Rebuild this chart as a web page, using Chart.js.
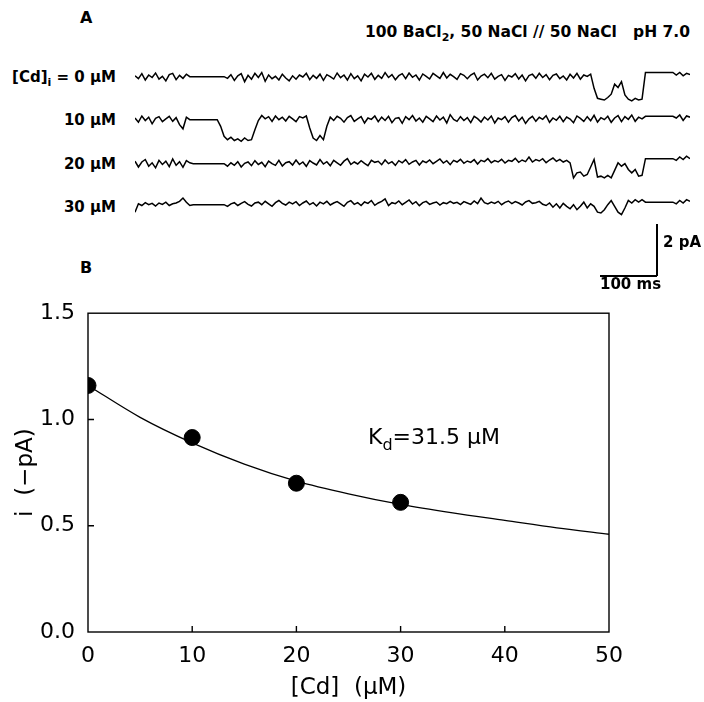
<!DOCTYPE html>
<html>
<head>
<meta charset="utf-8">
<script src="https://cdn.jsdelivr.net/npm/chart.js@4.4.0/dist/chart.umd.min.js"></script>
<style>
  body { margin: 0; width: 704px; height: 702px; background: #fff; position: relative; overflow: hidden; font-family: "DejaVu Sans", sans-serif; color: #000; }
  .lbl { position: absolute; font-weight: bold; font-size: 15px; line-height: 18px; white-space: nowrap; }
  .right { text-align: right; right: 588px; }
  .trace { position: absolute; left: 135px; width: 555px; height: 50px; }
  .sub { font-size: 11px; position: relative; top: 4px; }
</style>
</head>
<body>

<div class="lbl" style="left:80px;top:9px;font-size:16px;">A</div>
<div class="lbl" style="right:14px;top:23px;font-size:15.5px;">100 BaCl<span class="sub">2</span>, 50 NaCl // 50 NaCl &nbsp; pH 7.0</div>

<div class="lbl right" style="top:68px;">[Cd]<span class="sub">i</span> = 0 µM</div>
<div class="lbl right" style="top:111px;">10 µM</div>
<div class="lbl right" style="top:155px;">20 µM</div>
<div class="lbl right" style="top:198px;">30 µM</div>

<div class="trace" style="top:60px;"><canvas id="tr0"></canvas></div>
<div class="trace" style="top:103px;"><canvas id="tr10"></canvas></div>
<div class="trace" style="top:147px;"><canvas id="tr20"></canvas></div>
<div class="trace" style="top:188px;"><canvas id="tr30"></canvas></div>

<!-- scale bar -->
<div style="position:absolute;left:656px;top:224px;width:1.5px;height:52px;background:#000;"></div>
<div style="position:absolute;left:600px;top:275px;width:57px;height:1.5px;background:#000;"></div>
<div class="lbl" style="left:663px;top:233px;">2 pA</div>
<div class="lbl" style="left:600px;top:275px;">100 ms</div>

<div class="lbl" style="left:80px;top:259px;font-size:16px;">B</div>

<div style="position:absolute;left:0;top:287px;width:704px;height:415px;"><canvas id="chartB"></canvas></div>
<div style="position:absolute;left:368px;top:424px;font-size:22px;line-height:26px;white-space:nowrap;">K<span style="font-size:16px;position:relative;top:6px;">d</span>=31.5 µM</div>

<script>
// panel A: single-channel traces, sampled every 6 ms (pA)
const sampleMs = 6;
const trace0uM = [
  0.05,-0.12,0.18,-0.20,0.10,-0.05,0.22,-0.15,0.02,-0.25,0.12,0.20,-0.18,0.08,-0.10,0.15,0.00,
  0,0,0,0,0,0,0,0,0,0,
  -0.10,0.12,-0.22,0.05,0.18,-0.30,0.08,-0.15,0.20,-0.05,
  0.25,-0.28,0.10,-0.12,0.02,-0.20,0.15,-0.08,-0.25,0.05,
  -0.15,0.10,-0.02,0.20,-0.18,0.08,-0.10,0.15,-0.22,0.12,
  0.00,-0.14,0.22,-0.06,0.10,-0.20,0.18,-0.12,0.05,-0.25,
  0.15,-0.02,0.20,-0.16,0.08,-0.10,0.24,-0.05,0.12,-0.18,
  0.06,0.18,-0.12,0.22,-0.04,0.10,-0.20,0.16,0.02,-0.14,
  0.20,0.05,-0.10,0.25,-0.08,0.14,0.00,-0.16,0.18,0.08,
  -0.12,0.10,0.22,-0.20,0.04,0.15,-0.06,0.20,-0.15,0.02,
  0.12,-0.22,0.08,-0.02,0.18,-0.14,0.10,-0.25,0.06,0.15,
  -0.10,0.20,-0.05,0.12,-0.18,0.08,0.16,-0.12,0.04,-0.20,
  0.14,-0.08,0.20,-0.15,0.10,0.02,0.15,
  -0.70,-1.30,-1.35,-1.40,-1.25,-1.05,-0.45,-0.65,-0.30,-1.10,-1.35,-1.45,-1.30,-1.40,-1.35,
  0.25,0.25,0.25,0.25,0.25,0.25,0.25,0.25,0.25,
  0.10,0.25,0.05,0.20,0.12
];
const trace10uM = [
  0.10,-0.15,0.22,-0.05,0.15,-0.25,0.08,0.18,-0.12,0.05,0.20,-0.10,0.12,-0.30,-0.55,0.15,
  0,0,0,0,0,0,0,0,0,
  -0.40,-1.00,
  -1.20,-1.05,-1.25,-1.15,-1.30,-1.10,-1.25,-1.20,
  -0.60,-0.05,
  0.25,0.05,0.18,-0.10,0.22,0.00,0.15,-0.08,0.20,0.05,-0.12,0.18,0.10,0.22,
  -0.50,-1.10,-1.25,-0.95,-1.20,-0.40,
  0.15,-0.05,0.20,0.08,-0.15,0.12,0.25,-0.10,0.05,0.18,
  -0.20,0.10,0.02,0.22,-0.12,0.15,-0.05,0.20,-0.18,0.08,
  0.12,-0.22,0.18,0.00,0.25,-0.08,0.10,-0.15,0.20,0.05,
  -0.12,0.22,-0.02,0.15,-0.20,0.30,0.02,-0.10,0.18,-0.05,
  0.12,-0.18,0.20,0.06,-0.14,0.16,-0.02,0.22,-0.20,0.10,
  0.00,0.18,-0.15,0.12,0.25,-0.08,0.15,-0.22,0.05,0.20,
  -0.10,0.14,0.02,0.24,-0.16,0.10,-0.04,0.20,-0.12,0.16,
  0.04,-0.18,0.22,0.08,-0.10,0.18,-0.06,0.26,-0.14,0.12,
  0.00,0.20,-0.16,0.10,0.24,-0.12,0.18,0.02,0.28,-0.10,0.15,0.05,
  0.20,0.20,0.20,0.20,0.20,0.20,0.20,0.20,0.20,
  0.10,0.28,-0.05,0.22,0.15
];
const trace20uM = [
  0.15,-0.20,0.10,0.25,-0.15,0.05,-0.25,0.20,-0.05,0.15,-0.18,0.28,-0.10,0.12,-0.22,0.18,0.05,
  0,0,0,0,0,0,0,0,0,0,
  -0.15,0.05,-0.10,0.12,-0.20,0.02,0.10,-0.12,0.18,-0.05,
  0.08,-0.18,0.15,0.00,-0.10,0.20,-0.14,0.06,0.12,-0.08,
  0.22,-0.05,0.10,-0.16,0.18,0.04,-0.08,0.25,-0.02,0.12,
  -0.12,0.20,0.05,-0.10,0.15,0.30,-0.05,0.10,-0.02,0.18,
  0.02,-0.12,0.20,0.08,0.14,-0.06,0.22,0.00,0.12,-0.10,
  0.18,0.05,0.24,-0.04,0.10,0.20,-0.08,0.16,0.06,0.22,
  0.00,0.14,0.28,0.04,0.18,-0.06,0.20,0.10,0.26,0.02,
  0.16,0.08,0.24,-0.02,0.20,0.12,0.30,0.06,0.18,0.10,
  0.26,0.04,0.20,0.14,0.32,0.08,0.22,0.12,0.40,0.10,
  0.24,0.16,0.30,0.06,0.22,0.34,0.14,0.26,0.10,0.20,
  0.05,-0.85,-0.55,-0.50,-0.75,-0.65,-0.20,0.25,-0.80,-0.75,-0.85,-0.70,-0.85,-0.40,0.05,-0.15,0.00,-0.35,-0.55,-0.35,-0.75,-0.70,
  0.30,0.30,0.30,0.30,0.30,0.30,0.30,0.30,0.30,
  0.20,0.40,0.25,0.45,0.30
];
const trace30uM = [
  -0.45,0.05,-0.05,0.12,0.00,0.08,-0.08,0.10,0.02,0.15,-0.05,0.05,0.10,0.20,0.40,0.15,-0.05,
  0,0,0,0,0,0,0,0,0,0,
  -0.10,0.05,0.12,-0.05,0.08,0.18,0.02,-0.08,0.10,0.15,
  0.00,0.20,0.05,-0.10,0.12,0.25,0.08,-0.02,0.15,0.05,
  0.18,-0.05,0.10,0.22,0.00,0.12,-0.08,0.15,0.05,0.20,
  -0.02,0.10,0.18,0.05,-0.10,0.14,0.24,0.02,0.12,-0.05,
  0.16,0.08,0.25,-0.04,0.10,0.20,0.35,-0.05,0.12,0.06,
  0.22,0.00,0.14,0.28,0.04,0.18,-0.06,0.12,0.20,0.02,
  0.10,0.16,-0.02,0.12,0.06,0.20,0.08,0.14,0.00,0.18,
  0.10,0.02,0.22,0.06,0.40,0.12,0.04,0.16,0.08,0.20,
  0.00,0.14,0.22,0.06,0.18,0.10,-0.02,0.16,0.24,0.08,
  0.12,0.20,0.02,-0.05,0.10,-0.15,0.05,-0.20,0.08,-0.10,
  -0.25,0.00,-0.30,-0.10,0.15,-0.20,0.05,
  -0.10,-0.45,-0.50,-0.30,0.00,0.25,-0.10,-0.45,-0.60,-0.20,0.25,0.10,0.30,0.15,0.30,
  0.15,0.15,0.15,0.15,0.15,0.15,0.15,0.15,0.15,
  0.05,0.25,0.10,0.30,0.20
];

// panel B: mean current vs internal Cd
const cdConc = [0, 10, 20, 30];
const meanCurrent = [1.16, 0.915, 0.70, 0.61];
const fitConc = [0, 5, 10, 15, 20, 25, 30, 35, 40, 45, 50];
const fitCurrent = [1.16, 1.01, 0.89, 0.79, 0.71, 0.65, 0.60, 0.56, 0.525, 0.49, 0.46];

const font = "'DejaVu Sans', sans-serif";

function makeTrace(id, values) {
  new Chart(document.getElementById(id), {
    type: 'line',
    data: {
      datasets: [{
        data: values.map((v, i) => ({ x: i * sampleMs, y: v })),
        borderColor: '#000', borderWidth: 1.5, pointRadius: 0, tension: 0
      }]
    },
    options: {
      responsive: true, maintainAspectRatio: false, animation: false,
      layout: { padding: 0 },
      plugins: { legend: { display: false }, tooltip: { enabled: false } },
      scales: {
        x: { type: 'linear', display: false, min: 0, max: (values.length - 1) * sampleMs },
        y: { display: false, min: -2.0, max: 1.0 }
      }
    }
  });
}
makeTrace('tr0', trace0uM);
makeTrace('tr10', trace10uM);
makeTrace('tr20', trace20uM);
makeTrace('tr30', trace30uM);

// box round the plot area and small inward ticks
const frame = {
  id: 'frame',
  afterDraw(chart) {
    const { ctx, chartArea: a, scales } = chart;
    ctx.save();
    ctx.strokeStyle = '#000';
    ctx.lineWidth = 1.4;
    ctx.strokeRect(a.left, a.top, a.right - a.left, a.bottom - a.top);
    ctx.beginPath();
    [10, 20, 30, 40].forEach(v => {
      const x = scales.x.getPixelForValue(v);
      ctx.moveTo(x, a.bottom); ctx.lineTo(x, a.bottom - 6);
    });
    [0.5, 1.0].forEach(v => {
      const y = scales.y.getPixelForValue(v);
      ctx.moveTo(a.left, y); ctx.lineTo(a.left + 6, y);
    });
    ctx.stroke();
    ctx.restore();
  }
};

new Chart(document.getElementById('chartB'), {
  type: 'scatter',
  data: {
    datasets: [
      { data: fitConc.map((c, i) => ({ x: c, y: fitCurrent[i] })), showLine: true, borderColor: '#000',
        borderWidth: 1.3, pointRadius: 0, cubicInterpolationMode: 'monotone', order: 1 },
      { data: cdConc.map((c, i) => ({ x: c, y: meanCurrent[i] })), backgroundColor: '#000', borderColor: '#000',
        pointRadius: 8, order: 0 }
    ]
  },
  options: {
    responsive: true, maintainAspectRatio: false, animation: false,
    layout: { padding: { top: 12, right: 95, left: 0, bottom: 0 } },
    plugins: { legend: { display: false }, tooltip: { enabled: false } },
    scales: {
      x: {
        type: 'linear', min: 0, max: 50,
        grid: { display: false, drawTicks: false }, border: { display: false },
        ticks: { stepSize: 10, color: '#000', font: { family: font, size: 22 }, padding: 11, maxRotation: 0 },
        title: { display: true, text: '[Cd]  (µM)', color: '#000', font: { family: font, size: 23 }, padding: 0 },
        afterFit: s => { s.height = 70; }
      },
      y: {
        min: 0, max: 1.5,
        grid: { display: false, drawTicks: false }, border: { display: false },
        ticks: { stepSize: 0.5, color: '#000', font: { family: font, size: 22 }, padding: 13, callback: v => v.toFixed(1) },
        title: { display: true, text: 'i  (−pA)', color: '#000', font: { family: font, size: 23 }, padding: { top: 12, bottom: 0 } },
        afterFit: s => { s.width = 88; }
      }
    }
  },
  plugins: [frame]
});
</script>
</body>
</html>
